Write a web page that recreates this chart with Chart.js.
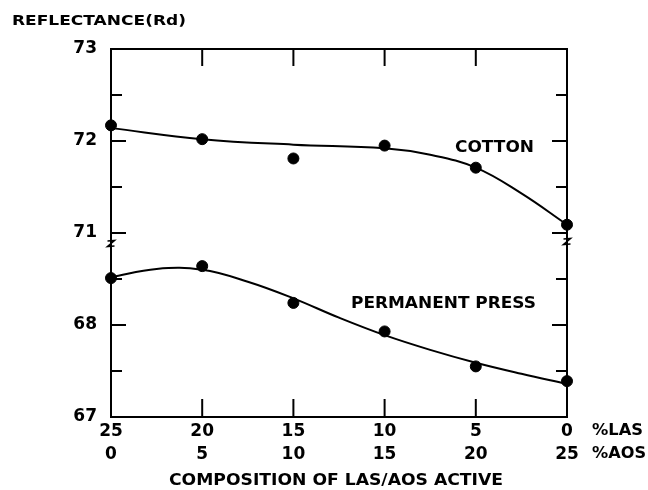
<!DOCTYPE html>
<html><head><meta charset="utf-8">
<script src="https://cdn.jsdelivr.net/npm/chart.js@4.4.1/dist/chart.umd.min.js"></script>
<style>html,body{margin:0;padding:0;background:#fff}#wrap{width:648px;height:490px}</style>
</head><body><div id="wrap"><canvas id="c" width="648" height="490"></canvas></div>
<script>
// ---- data ----
const lasTicks = [25, 20, 15, 10, 5, 0];
const aosTicks = [0, 5, 10, 15, 20, 25];
const yTopTicks = [71, 72, 73];
const yBotTicks = [67, 68];

const cottonLAS = [25, 20, 15, 10, 5, 0];
const cottonRd  = [72.17, 72.02, 71.81, 71.95, 71.71, 71.09];
const pressLAS  = [25, 20, 15, 10, 5, 0];
const pressRd   = [68.51, 68.64, 68.24, 67.93, 67.55, 67.39];

// fitted curves as drawn in the reference
const cottonCurveLAS = [25, 20, 15, 10, 7.5, 5, 2.5, 0];
const cottonCurveRd  = [72.14, 72.02, 71.96, 71.92, 71.85, 71.71, 71.43, 71.09];
const pressCurveLAS  = [25, 22.5, 20, 17.5, 15, 12.5, 10, 7.5, 5, 2.5, 0];
const pressCurveRd   = [68.52, 68.61, 68.60, 68.47, 68.29, 68.08, 67.89, 67.73, 67.59, 67.47, 67.36];

const FONT = '"DejaVu Sans", "Liberation Sans", sans-serif';
const pts = (xs, ys) => xs.map((x, i) => ({x: x, y: ys[i]}));

function fitText(ctx, s, x0, x1, cy, size) {
  ctx.save();
  ctx.font = 'bold ' + size + 'px ' + FONT;
  const w = ctx.measureText(s).width;
  ctx.translate(x0, cy + size * 0.729 / 2);
  ctx.scale((x1 - x0) / w, 1);
  ctx.textAlign = 'left';
  ctx.textBaseline = 'alphabetic';
  ctx.fillStyle = '#000';
  ctx.fillText(s, 0, 0);
  ctx.restore();
}

const decor = {
  id: 'decor',
  beforeDatasetsDraw(chart) {
    const ctx = chart.ctx, a = chart.chartArea, sc = chart.scales;
    const line = (x1, y1, x2, y2) => { ctx.beginPath(); ctx.moveTo(x1, y1); ctx.lineTo(x2, y2); ctx.stroke(); };
    ctx.save();
    ctx.strokeStyle = '#000';
    ctx.lineWidth = 2;
    ctx.strokeRect(a.left, a.top, a.right - a.left, a.bottom - a.top);
    lasTicks.forEach(v => {
      if (v === 0 || v === 25) return;
      const px = sc.x.getPixelForValue(v);
      line(px, a.bottom, px, a.bottom - 18);
      line(px, a.top, px, a.top + 17);
    });
    const drawY = (s, majors, skipMin, skipMax) => {
      for (let v = s.min; v <= s.max + 1e-9; v += 0.5) {
        if (skipMin && Math.abs(v - s.min) < 1e-9) continue;
        if (skipMax && Math.abs(v - s.max) < 1e-9) continue;
        const py = s.getPixelForValue(v);
        const len = majors.includes(v) ? 15 : 11;
        line(a.left, py, a.left + len, py);
        line(a.right, py, a.right - len, py);
      }
    };
    drawY(sc.yTop, yTopTicks, false, true);
    drawY(sc.yBot, yBotTicks, true, true);
    const by = sc.yTop.bottom;
    ctx.lineWidth = 1.6;
    [[a.left, by + 11], [a.right, by + 9]].forEach(([bx, yy]) => {
      ctx.beginPath();
      ctx.moveTo(bx - 3.5, yy - 3);
      ctx.lineTo(bx + 3.5, yy - 3.5);
      ctx.lineTo(bx - 3.5, yy + 2.5);
      ctx.lineTo(bx + 3.5, yy + 2);
      ctx.stroke();
    });
    ctx.restore();
  },
  afterDraw(chart) {
    const ctx = chart.ctx;
    fitText(ctx, 'REFLECTANCE(Rd)', 12, 186, 20, 14.5);
    fitText(ctx, 'COTTON', 455, 534, 146, 16);
    fitText(ctx, 'PERMANENT PRESS', 351, 536, 302, 16);
    fitText(ctx, '%LAS', 592, 643, 429, 16.5);
    fitText(ctx, '%AOS', 592, 646, 452, 16.5);
    fitText(ctx, 'COMPOSITION OF LAS/AOS ACTIVE', 169, 503, 479, 16);
  }
};

const yCommon = {
  type: 'linear', position: 'left', stack: 'y', stackWeight: 1,
  afterFit: s => { s.width = 111; },
  grid: {display: false, drawTicks: false},
  border: {display: false},
};

new Chart(document.getElementById('c').getContext('2d'), {
  type: 'scatter',
  data: {
    datasets: [
      {type: 'line', data: pts(cottonCurveLAS, cottonCurveRd), yAxisID: 'yTop', borderColor: '#000',
       borderWidth: 2, pointRadius: 0, tension: 0.4, fill: false, clip: false},
      {type: 'line', data: pts(pressCurveLAS, pressCurveRd), yAxisID: 'yBot', borderColor: '#000',
       borderWidth: 2, pointRadius: 0, tension: 0.4, fill: false, clip: false},
      {data: pts(cottonLAS, cottonRd), yAxisID: 'yTop', pointRadius: 5.5, pointBackgroundColor: '#000',
       pointBorderColor: '#000', backgroundColor: '#000', borderColor: '#000', clip: false},
      {data: pts(pressLAS, pressRd), yAxisID: 'yBot', pointRadius: 5.5, pointBackgroundColor: '#000',
       pointBorderColor: '#000', backgroundColor: '#000', borderColor: '#000', clip: false}
    ]
  },
  options: {
    responsive: false, animation: false, events: [],
    layout: {padding: {top: 49, right: 81, left: 0, bottom: 0}},
    plugins: {legend: {display: false}, tooltip: {enabled: false}},
    scales: {
      x: {
        type: 'linear', reverse: true, min: 0, max: 25, position: 'bottom',
        afterBuildTicks: s => { s.ticks = lasTicks.map(v => ({value: v})); },
        afterFit: s => { s.height = 73; },
        grid: {display: false, drawTicks: false},
        border: {display: false},
        ticks: {
          font: {family: FONT, weight: 'bold', size: 17, lineHeight: 1.3},
          color: '#000', padding: 4, maxRotation: 0, autoSkip: false,
          callback: v => { const i = lasTicks.indexOf(v); return i < 0 ? '' : [String(lasTicks[i]), String(aosTicks[i])]; }
        }
      },
      yTop: Object.assign({}, yCommon, {
        min: 71, max: 73, weight: 2,
        ticks: {stepSize: 1, color: '#000', padding: 14, font: {family: FONT, weight: 'bold', size: 17},
                callback: v => yTopTicks.includes(v) ? String(v) : ''}
      }),
      yBot: Object.assign({}, yCommon, {
        min: 67, max: 69, weight: 1,
        ticks: {stepSize: 1, color: '#000', padding: 14, font: {family: FONT, weight: 'bold', size: 17},
                callback: v => yBotTicks.includes(v) ? String(v) : ''}
      })
    }
  },
  plugins: [decor]
});
</script>
</body></html>
